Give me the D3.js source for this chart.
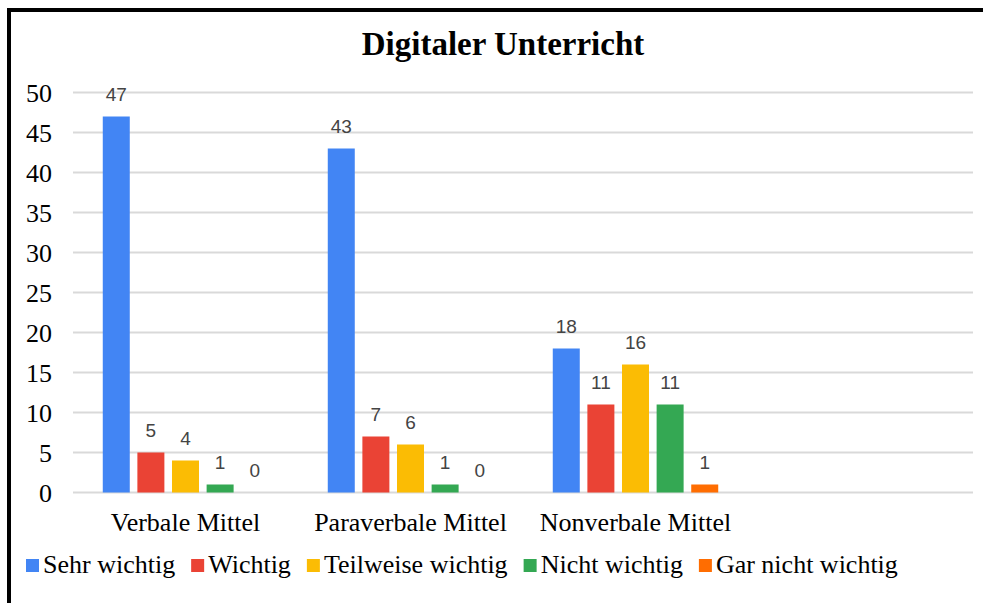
<!DOCTYPE html>
<html>
<head>
<meta charset="utf-8">
<script src="https://cdn.jsdelivr.net/npm/d3@7"></script>
<style>
  body { margin: 0; background: #fff; }
  svg { display: block; }
  .serif { font-family: "Liberation Serif", "Times New Roman", serif; }
  .sans { font-family: "Liberation Sans", Arial, sans-serif; }
</style>
</head>
<body>
<svg id="chart" width="983" height="603"></svg>
<script>
// chart data
var categories = ['Verbale Mittel', 'Paraverbale Mittel', 'Nonverbale Mittel', ''];
var seriesNames = ['Sehr wichtig', 'Wichtig', 'Teilweise wichtig', 'Nicht wichtig', 'Gar nicht wichtig'];
var seriesColors = ['#4285f4', '#ea4335', '#fbbc04', '#34a853', '#ff6d01'];
var sehrWichtig = [47, 43, 18];
var wichtig = [5, 7, 11];
var teilweiseWichtig = [4, 6, 16];
var nichtWichtig = [1, 1, 11];
var garNichtWichtig = [0, 0, 1];
var yTicks = [0, 5, 10, 15, 20, 25, 30, 35, 40, 45, 50];

var seriesValues = [sehrWichtig, wichtig, teilweiseWichtig, nichtWichtig, garNichtWichtig];

var svg = d3.select('#chart');

// frame (only top and left edges are visible in the crop)
svg.append('rect')
    .attr('x', 9).attr('y', 10)
    .attr('width', 1000).attr('height', 700)
    .attr('fill', 'none').attr('stroke', '#000').attr('stroke-width', 4);

// title
svg.append('text').attr('class', 'serif')
    .attr('x', 503).attr('y', 55)
    .attr('text-anchor', 'middle')
    .attr('font-size', 33).attr('font-weight', 'bold')
    .text('Digitaler Unterricht');

var x = d3.scaleBand().domain(categories).range([73, 973]).padding(0);
var xInner = d3.scaleBand().domain(seriesNames).range([0, x.bandwidth()])
    .paddingInner(0.22).paddingOuter(0.86);
var y = d3.scaleLinear().domain([0, 50]).range([492.5, 92.5]);

// gridlines
svg.append('g').selectAll('line').data(yTicks).enter().append('line')
    .attr('x1', 73).attr('x2', 973)
    .attr('y1', function (d) { return y(d); })
    .attr('y2', function (d) { return y(d); })
    .attr('stroke', '#d9d9d9').attr('stroke-width', 2);

// y axis labels
var yAxis = d3.axisLeft(y).tickValues(yTicks).tickSize(0).tickPadding(0);
var yG = svg.append('g').attr('transform', 'translate(52,0)').call(yAxis);
yG.select('.domain').remove();
yG.selectAll('text')
    .attr('font-size', 26).attr('fill', '#000').attr('dy', '0.33em')
    .style('font-family', '"Liberation Serif", "Times New Roman", serif');

// x axis labels
var xAxis = d3.axisBottom(x).tickSize(0).tickPadding(0);
var xG = svg.append('g').attr('transform', 'translate(0,531)').call(xAxis);
xG.select('.domain').remove();
xG.selectAll('text').attr('dy', 0).attr('y', 0)
    .attr('font-size', 26).attr('fill', '#000')
    .style('font-family', '"Liberation Serif", "Times New Roman", serif');

// bars
var groups = svg.append('g').selectAll('g').data(seriesNames).enter().append('g')
    .attr('fill', function (d, i) { return seriesColors[i]; });

groups.each(function (name, si) {
    var g = d3.select(this);
    var vals = seriesValues[si];
    g.selectAll('rect').data(vals).enter().append('rect')
        .attr('x', function (d, ci) { return x(categories[ci]) + xInner(name); })
        .attr('y', function (d) { return y(d); })
        .attr('width', xInner.bandwidth())
        .attr('height', function (d) { return y(0) - y(d); });
    g.selectAll('text').data(vals).enter().append('text').attr('class', 'sans')
        .attr('x', function (d, ci) { return x(categories[ci]) + xInner(name) + xInner.bandwidth() / 2; })
        .attr('y', function (d) { return y(d) - 15.5; })
        .attr('text-anchor', 'middle')
        .attr('font-size', 19).attr('fill', '#444')
        .text(function (d) { return d; });
});

// legend
var legend = svg.append('g');
var lx = 26;
for (let i = 0; i < seriesNames.length; i++) {
    legend.append('rect')
        .attr('x', lx).attr('y', 559).attr('width', 13).attr('height', 13)
        .attr('fill', seriesColors[i]);
    let t = legend.append('text').attr('class', 'serif')
        .attr('x', lx + 17).attr('y', 573)
        .attr('font-size', 26).attr('fill', '#000')
        .text(seriesNames[i]);
    lx += 17 + t.node().getComputedTextLength() + 16;
}
</script>
</body>
</html>
